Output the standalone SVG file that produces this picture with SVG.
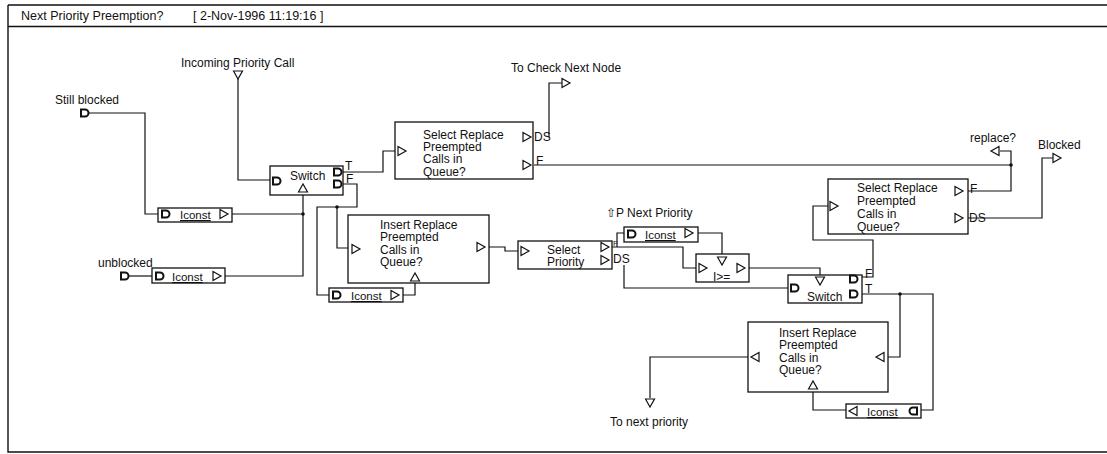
<svg xmlns="http://www.w3.org/2000/svg" xmlns:xlink="http://www.w3.org/1999/xlink" width="1107" height="454" viewBox="0 0 1107 454">
<style>
text{font-family:"Liberation Sans",Arial,sans-serif;font-size:12px;fill:#111}
.t{font-size:12.5px}
.ic{font-size:11.5px;text-decoration:underline}
.box{fill:#fff;stroke:#111;stroke-width:1.3}
.w{fill:none;stroke:#111;stroke-width:1.2}
.frame{fill:none;stroke:#111;stroke-width:1.4}
.p{fill:#fff;stroke:#111;stroke-width:1.2;stroke-linejoin:miter}
.d{fill:#fff;stroke:#111;stroke-width:2}
.dot{fill:#111}
</style>
<defs>
<path id="tr" class="p" d="M-4,-4.5 L4,0 L-4,4.5 Z"/>
<path id="tl" class="p" d="M4,-4.5 L-4,0 L4,4.5 Z"/>
<path id="tu" class="p" d="M-4.5,4 L0,-4 L4.5,4 Z"/>
<path id="td" class="p" d="M-4.5,-4 L0,4 L4.5,-4 Z"/>
<path id="dd" class="d" d="M-4,-3.5 H0 A3.5,3.5 0 0 1 0,3.5 H-4 Z"/>
<path id="dl" class="d" d="M4,-3.5 H0 A3.5,3.5 0 0 0 0,3.5 H4 Z"/>
</defs>

<g id="frame">
<path class="frame" d="M8,5 H1107 M8,26.5 H1107 M8,5 V452 H1107"/>
<text class="t" x="21" y="20">Next Priority Preemption?</text>
<text class="t" x="193" y="20">[ 2-Nov-1996 11:19:16 ]</text>
</g>

<g id="connectors">
<path class="w" d="M88,113 H145 V214 H158"/>
<path class="w" d="M238,79 V180 H270"/>
<path class="w" d="M232,214 H303"/>
<path class="w" d="M225,276 H303 V195"/>
<path class="w" d="M128,276 H152"/>
<path class="w" d="M343,172 H383 V151 H395"/>
<path class="w" d="M343,184 H357 V207 H317 V295 H329"/>
<path class="w" d="M337,207 V248 H348"/>
<path class="w" d="M403,295 H415 V283"/>
<path class="w" d="M489,247 H505 V251 H518"/>
<path class="w" d="M549,137 V83 H562"/>
<path class="w" d="M534,165 H1011 V191 H968"/>
<path class="w" d="M1011,165 V151 H1000"/>
<path class="w" d="M968,218 H1042 V158 H1053"/>
<path class="w" d="M828,206 H813 V240 H873 V277 H862"/>
<path class="w" d="M749,268 H820 V275"/>
<path class="w" d="M862,294 H933 V410 H921"/>
<path class="w" d="M900,294 V357 H888"/>
<path class="w" d="M748,357 H650 V398"/>
<path class="w" d="M813,392 V410 H846"/>
<path class="w" d="M612,247 H683 V268 H696"/>
<path class="w" d="M617,247 V233 H624"/>
<path class="w" d="M624,265 V288 H788"/>
<path class="w" d="M698,233 H722 V254"/>
<circle class="dot" cx="303" cy="214" r="1.8"/>
<circle class="dot" cx="337" cy="207" r="1.8"/>
<circle class="dot" cx="1011" cy="165" r="1.8"/>
<circle class="dot" cx="900" cy="294" r="1.8"/>
</g>

<g id="still-blocked">
<text x="55" y="104">Still blocked</text>
<use xlink:href="#dd" x="85" y="113"/>
</g>
<g id="unblocked">
<text x="98" y="267">unblocked</text>
<use xlink:href="#dd" x="125" y="276"/>
</g>
<g id="incoming">
<text x="181" y="67">Incoming Priority Call</text>
<use xlink:href="#td" x="238" y="75"/>
</g>
<g id="to-check">
<text x="511" y="72">To Check Next Node</text>
<use xlink:href="#tr" x="566" y="83"/>
</g>
<g id="replace-q">
<text x="970" y="142">replace?</text>
<use xlink:href="#tl" x="995" y="151"/>
</g>
<g id="blocked">
<text x="1038" y="149">Blocked</text>
<use xlink:href="#tr" x="1057" y="158"/>
</g>
<g id="to-next-priority">
<text x="610" y="426">To next priority</text>
<use xlink:href="#td" x="650" y="403"/>
</g>
<g id="p-next-priority">
<text x="606" y="217">⇧P Next Priority</text>
</g>

<g id="iconst1">
<rect class="box" x="158" y="208" width="74" height="14"/>
<use xlink:href="#dd" x="166" y="214"/>
<text class="ic" x="180" y="219">Iconst</text>
<use xlink:href="#tr" x="224" y="214"/>
</g>
<g id="iconst2">
<rect class="box" x="152" y="268" width="73" height="15"/>
<use xlink:href="#dd" x="160" y="276"/>
<text class="ic" x="172" y="281">Iconst</text>
<use xlink:href="#tr" x="217" y="276"/>
</g>
<g id="switch1">
<rect class="box" x="270" y="166" width="73" height="29"/>
<use xlink:href="#dd" x="277" y="181"/>
<text x="290" y="180">Switch</text>
<use xlink:href="#tu" x="303" y="188"/>
<use xlink:href="#dd" x="338" y="172"/>
<use xlink:href="#dd" x="338" y="184"/>
<text x="345" y="170">T</text>
<text x="346" y="183">F</text>
</g>
<g id="select-replace-1">
<rect class="box" x="395" y="122" width="138" height="57"/>
<text x="423" y="139">Select Replace</text>
<text x="423" y="151">Preempted</text>
<text x="423" y="163">Calls in</text>
<text x="423" y="176">Queue?</text>
<use xlink:href="#tr" x="402" y="151"/>
<use xlink:href="#tr" x="527" y="137"/>
<use xlink:href="#tr" x="527" y="165"/>
<text x="534" y="141">DS</text>
<text x="536" y="165">F</text>
</g>
<g id="insert-replace-1">
<rect class="box" x="348" y="215" width="141" height="68"/>
<text x="380" y="229">Insert Replace</text>
<text x="380" y="241">Preempted</text>
<text x="380" y="254">Calls in</text>
<text x="380" y="266">Queue?</text>
<use xlink:href="#tr" x="356" y="249"/>
<use xlink:href="#tr" x="481" y="247"/>
<use xlink:href="#tu" x="415" y="277"/>
</g>
<g id="iconst3">
<rect class="box" x="329" y="288" width="74" height="14"/>
<use xlink:href="#dd" x="337" y="295"/>
<text class="ic" x="351" y="300">Iconst</text>
<use xlink:href="#tr" x="395" y="295"/>
</g>
<g id="select-priority">
<rect class="box" x="518" y="241" width="94" height="28"/>
<use xlink:href="#tr" x="525" y="251"/>
<text x="547" y="254">Select</text>
<text x="547" y="266">Priority</text>
<use xlink:href="#tr" x="605" y="247"/>
<use xlink:href="#tr" x="605" y="260"/>
<text x="613" y="246" style="font-size:8px">F</text>
<text x="613" y="263">DS</text>
</g>
<g id="iconst5">
<rect class="box" x="624" y="227" width="74" height="15"/>
<use xlink:href="#dd" x="632" y="234"/>
<text class="ic" x="645" y="239">Iconst</text>
<use xlink:href="#tr" x="689" y="233"/>
</g>
<g id="ge">
<rect class="box" x="696" y="254" width="53" height="28"/>
<use xlink:href="#tr" x="703" y="268"/>
<use xlink:href="#td" x="722" y="261"/>
<use xlink:href="#tr" x="741" y="268"/>
<text x="713" y="281">I&gt;=</text>
</g>
<g id="switch2">
<rect class="box" x="788" y="275" width="74" height="28"/>
<use xlink:href="#dd" x="795" y="288"/>
<use xlink:href="#td" x="820" y="281"/>
<text x="807" y="301">Switch</text>
<use xlink:href="#dd" x="854" y="279"/>
<use xlink:href="#dd" x="854" y="294"/>
<text x="865" y="278">F</text>
<text x="865" y="293">T</text>
</g>
<g id="select-replace-2">
<rect class="box" x="828" y="179" width="140" height="55"/>
<text x="857" y="192">Select Replace</text>
<text x="857" y="205">Preempted</text>
<text x="857" y="218">Calls in</text>
<text x="857" y="231">Queue?</text>
<use xlink:href="#tr" x="834" y="206"/>
<use xlink:href="#tr" x="959" y="191"/>
<use xlink:href="#tr" x="959" y="218"/>
<text x="970" y="193">F</text>
<text x="969" y="222">DS</text>
</g>
<g id="insert-replace-2">
<rect class="box" x="748" y="322" width="140" height="70"/>
<text x="779" y="337">Insert Replace</text>
<text x="779" y="349">Preempted</text>
<text x="779" y="362">Calls in</text>
<text x="779" y="374">Queue?</text>
<use xlink:href="#tl" x="755" y="357"/>
<use xlink:href="#tl" x="880" y="357"/>
<use xlink:href="#tu" x="813" y="385"/>
</g>
<g id="iconst4">
<rect class="box" x="846" y="404" width="75" height="14"/>
<use xlink:href="#tl" x="853" y="411"/>
<text class="ic" x="867" y="416">Iconst</text>
<use xlink:href="#dl" x="913" y="411"/>
</g>
</svg>
